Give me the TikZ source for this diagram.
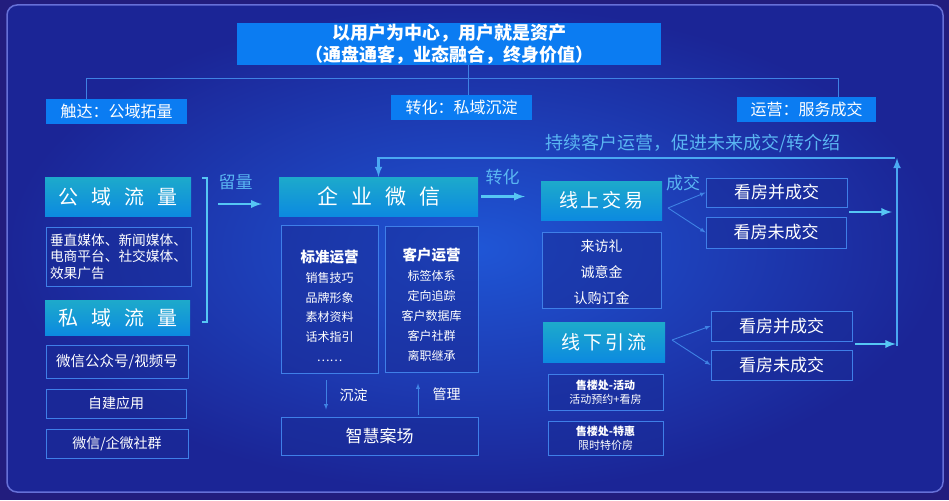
\documentclass[tikz,border=0pt]{standalone}
\usepackage{fontspec}
\setmainfont{Noto Sans CJK SC}
\usepackage{xcolor}
\usetikzlibrary{positioning}
\definecolor{frameblue}{HTML}{221D7E}
\definecolor{panelin}{HTML}{1F56D6}
\definecolor{panelout}{HTML}{1B2596}
\definecolor{panelrim}{HTML}{6670D8}
\definecolor{tagblue}{HTML}{0B7CF2}
\definecolor{tealtop}{HTML}{1DAACB}
\definecolor{tealbot}{HTML}{0C8AE0}
\definecolor{boxline}{HTML}{3F7FE8}
\definecolor{boxfill}{HTML}{1A2C98}
\definecolor{wireblue}{HTML}{3F82E4}
\definecolor{arrowcyan}{HTML}{56C6F4}
\definecolor{loopblue}{HTML}{4AA8F2}
\definecolor{labelblue}{HTML}{5AB6F2}
\newcommand\pxfont[1]{\fontsize{#1}{#1}\selectfont}
\newcommand\gap{\hspace{13pt}}

\begin{document}
\begin{tikzpicture}[x=1pt, y=-1pt, >=latex,
    tagbox/.style={fill=tagblue, text=white, inner sep=0, font=\pxfont{16}},
    flowbox/.style={top color=tealtop, bottom color=tealbot, text=white, inner sep=0},
    linebox/.style={draw=boxline, line width=0.8pt, fill=boxfill, fill opacity=0.55, text opacity=1, text=white, inner sep=0},
    flowlabel/.style={text=labelblue, inner sep=0},
    bigarrow/.style={->, draw=arrowcyan, line width=2.6pt},
    looparrow/.style={->, draw=loopblue, line width=2.4pt},
    thinarrow/.style={->, draw=wireblue, line width=0.9pt},
    wire/.style={draw=wireblue, line width=0.8pt}]
    % background
    \fill[frameblue] (0,0) rectangle (949,500);
    \useasboundingbox (0,0) rectangle (949,500);
    \shade[inner color=panelin, outer color=panelout, draw=panelrim, line width=1.5pt, rounded corners=10pt] (7,5) rectangle (943,492);

    % title and the three stages
    \node[fill=tagblue, text=white, inner sep=0, minimum width=424pt, minimum height=42pt, align=center, font=\bfseries\fontsize{18}{22}\selectfont] (title) at (449,44) {以用户为中心，用户就是资产\\（通盘通客，业态融合，终身价值）};
    \node[tagbox, minimum width=141pt, minimum height=25pt] (reach) at (116.5,111.5) {触达：公域拓量};
    \node[tagbox, minimum width=141pt, minimum height=25pt] (convert) at (461.5,107.5) {转化：私域沉淀};
    \node[tagbox, minimum width=139pt, minimum height=25pt] (serve) at (806.5,109.5) {运营：服务成交};
    \coordinate (barL) at (86,78);
    \coordinate (barM) at (468,78);
    \coordinate (barR) at (838,78);
    \draw[wire] (reach.north -| barL) -- (barL) -- (barR) -- (serve.north -| barR);
    \draw[wire] (title.south -| barM) -- (convert.north -| barM);

    % left column
    \node[flowbox, minimum width=146pt, minimum height=39pt, font=\pxfont{20}] (public) at (118,196.5) {公\gap 域\gap 流\gap 量};
    \node[linebox, minimum width=145pt, minimum height=59pt, text width=137pt, align=left, font=\fontsize{13.7}{16.5}\selectfont] (media) at (118.5,256.5) {垂直媒体、新闻媒体、\\电商平台、社交媒体、\\效果广告};
    \node[flowbox, minimum width=145pt, minimum height=35pt, font=\pxfont{20}] (private) at (117.5,317.5) {私\gap 域\gap 流\gap 量};
    \node[linebox, minimum width=142pt, minimum height=33pt, font=\pxfont{14.5}] (wxpub) at (117,361.5) {微信公众号/视频号};
    \node[linebox, minimum width=140pt, minimum height=29pt, font=\pxfont{14}] (selfapp) at (116,403.5) {自建应用};
    \node[linebox, minimum width=142pt, minimum height=29pt, font=\pxfont{14}] (groups) at (117,443.5) {微信/企微社群};
    \coordinate (brT) at (207,178);
    \coordinate (brB) at (207,322);
    \draw[draw=arrowcyan, line width=2.2pt] ([xshift=-5pt]brT) -- (brT) -- (brB) -- ([xshift=-5pt]brB);
    \node[flowlabel, font=\pxfont{17}] (keeplbl) at (235.5,182) {留量};
    \coordinate (keepS) at (218,204);

    % enterprise wechat
    \node[flowbox, minimum width=199pt, minimum height=39pt, font=\pxfont{21}] (qywx) at (378.5,196.5) {企\gap 业\gap 微\gap 信};
    \draw[bigarrow] (keepS) -- ([xshift=-17pt]qywx.west |- keepS);
    \node[linebox, minimum width=97pt, minimum height=148pt, align=center, font=\fontsize{12}{19.8}\selectfont] (standard) at (329.5,299) {\rule{0pt}{26pt}{\bfseries\pxfont{14.5}标准运营}\\销售技巧\\品牌形象\\素材资料\\话术指引\\……};
    \node[linebox, minimum width=93pt, minimum height=146pt, align=center, font=\fontsize{12}{20}\selectfont] (custom) at (431.5,299) {\rule{0pt}{23pt}{\bfseries\pxfont{14.5}客户运营}\\标签体系\\定向追踪\\客户数据库\\客户社群\\离职继承};
    \node[linebox, minimum width=197pt, minimum height=38pt, font=\pxfont{17}] (smart) at (379.5,436) {智慧案场};
    \coordinate (sinkX) at (326,0);
    \coordinate (mgX) at (418,0);
    \draw[thinarrow, shorten <=7pt, shorten >=7pt] (standard.south -| sinkX) -- (smart.north -| sinkX);
    \draw[thinarrow, shorten <=2pt, shorten >=11pt] (smart.north -| mgX) -- (custom.south -| mgX);
    \node[text=white, font=\pxfont{14}] (sinklbl) at (353.5,395) {沉淀};
    \node[text=white, font=\pxfont{14}] (mglbl) at (446.5,394) {管理};

    % online and offline
    \node[flowlabel, font=\pxfont{17}] (convlbl) at (502.5,177) {转化};
    \node[flowbox, minimum width=121pt, minimum height=39pt, font=\pxfont{19}] (online) at (601.5,200.5) {线\hspace{3pt}上\hspace{3pt}交\hspace{3pt}易};
    \draw[bigarrow, shorten <=3pt, shorten >=16pt] (qywx.east) -- (qywx.east -| online.west);
    \node[linebox, minimum width=119pt, minimum height=76pt, align=center, font=\fontsize{14}{26}\selectfont] (gifts) at (601.5,270) {\rule{0pt}{16pt}来访礼\\诚意金\\认购订金};
    \node[flowbox, minimum width=122pt, minimum height=40pt, font=\pxfont{19}] (offline) at (604,342) {线\hspace{3pt}下\hspace{3pt}引\hspace{3pt}流};
    \node[linebox, minimum width=115pt, minimum height=36pt, align=center, font=\fontsize{11}{14}\selectfont] (event) at (605.5,392) {{\bfseries 售楼处-活动}\\活动预约+看房};
    \node[linebox, minimum width=115pt, minimum height=34pt, align=center, font=\fontsize{11}{13.5}\selectfont] (promo) at (605.5,438) {{\bfseries 售楼处-特惠}\\限时特价房};

    % deals
    \node[flowlabel, font=\pxfont{17}] (deallbl) at (683,183) {成交};
    \node[linebox, minimum width=141pt, minimum height=29pt, font=\pxfont{17}] (onyes) at (776.5,192.5) {看房并成交};
    \node[linebox, minimum width=140pt, minimum height=31pt, font=\pxfont{17}] (onno) at (776,232.5) {看房未成交};
    \node[linebox, minimum width=141pt, minimum height=30pt, font=\pxfont{17}] (offyes) at (781.5,326) {看房并成交};
    \node[linebox, minimum width=141pt, minimum height=30pt, font=\pxfont{17}] (offno) at (781.5,365) {看房未成交};
    \coordinate (onOut) at (668,208);
    \coordinate (offOut) at (672,340);
    \draw[thinarrow] (onOut) -- (onyes.west);
    \draw[thinarrow] (onOut) -- (onno.west);
    \draw[thinarrow] (offOut) -- (offyes.west);
    \draw[thinarrow] (offOut) -- (offno.west);

    % feedback loop
    \node[flowlabel, font=\pxfont{18}] (looplbl) at (693,143) {持续客户运营，促进未来成交/转介绍};
    \coordinate (riseT) at (897,158);
    \coordinate (riseB) at (897,346);
    \coordinate (upOut) at (849,212);
    \coordinate (downOut) at (855,344);
    \draw[bigarrow, shorten >=5pt] (upOut) -- (upOut -| riseT);
    \draw[bigarrow, shorten >=1pt] (downOut) -- (downOut -| riseT);
    \draw[looparrow] (riseB) -- (riseT);
    \draw[looparrow] ([xshift=-2pt]riseT) -| (qywx.north);
\end{tikzpicture}
\end{document}
